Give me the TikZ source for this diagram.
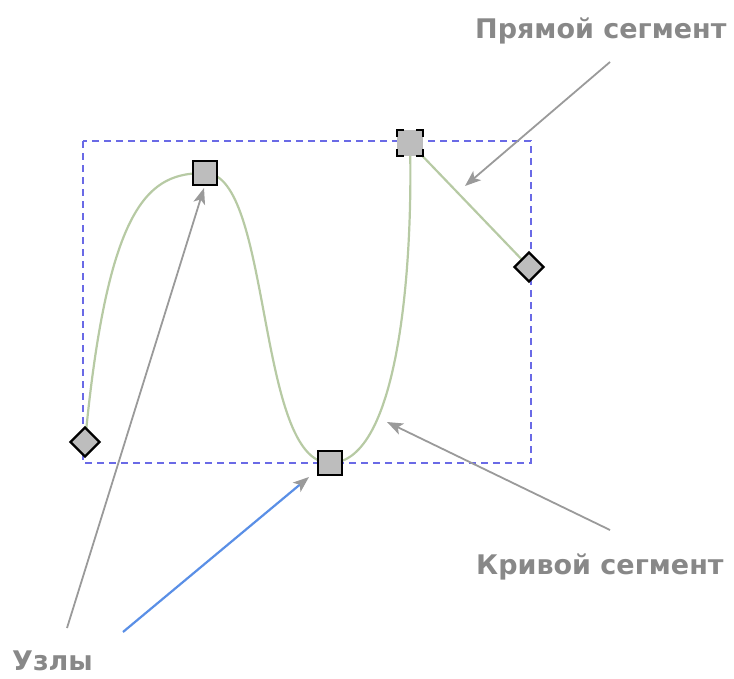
\documentclass[tikz,border=0pt]{standalone}
\usepackage{fontspec}
\setmainfont{DejaVu Sans}
\usetikzlibrary{shapes.geometric,arrows.meta}
\definecolor{pathgreen}{HTML}{B7CAA4}
\definecolor{boxblue}{HTML}{6A6AE6}
\definecolor{ptr}{HTML}{9A9A9A}
\definecolor{bluearrow}{HTML}{5A8FE6}
\definecolor{nodefill}{HTML}{BDBDBD}
\definecolor{labelgray}{HTML}{888888}
\tikzset{
  sqnode/.style={draw=black, line width=2.2pt, fill=nodefill, minimum size=24pt, inner sep=0pt},
  dmnode/.style={diamond, aspect=1, draw=black, line width=2.2pt, fill=nodefill, minimum size=30pt, inner sep=0pt},
  selnode/.style={fill=nodefill, minimum size=26pt, inner sep=0pt},
  pointer/.style={draw=ptr, line width=1.8pt, -{Stealth[length=16pt,width=12pt,inset=4pt,color=ptr]}},
  bluepointer/.style={draw=bluearrow, line width=2.2pt, -{Stealth[length=16pt,width=12pt,inset=4pt,color=ptr]}},
  lbl/.style={font=\bfseries\fontsize{27}{32}\selectfont, text=labelgray, inner sep=0pt, anchor=base west},
  seg/.style={draw=pathgreen, line width=2.2pt}
}
\begin{document}
\begin{tikzpicture}[x=1pt,y=-1pt]
\useasboundingbox (0,0) rectangle (734,678);
% bounding dashed box
\draw[boxblue, line width=1.6pt, dash pattern=on 7pt off 5pt] (83,141) rectangle (531,463);
% path
\coordinate (p0) at (85,442);
\coordinate (p1) at (205,173);
\coordinate (p2) at (330,463);
\coordinate (p3) at (410,143);
\coordinate (p4) at (529,267);
\draw[seg] (p0) .. controls (108,200) and (150,173) .. (p1)
  .. controls (272,173) and (256,463) .. (p2)
  .. controls (400,463) and (413,260) .. (p3) -- (p4);
% nodes
\node[dmnode] (n0) at (p0) {};
\node[sqnode] (n1) at (p1) {};
\node[sqnode] (n2) at (p2) {};
\node[dmnode] (n4) at (p4) {};
\node[selnode] (n3) at (p3) {};
\draw[black, line width=2.2pt]
  ([yshift=-7pt]n3.north west) -- (n3.north west) -- ([xshift=7pt]n3.north west)
  ([xshift=-7pt]n3.north east) -- (n3.north east) -- ([yshift=-7pt]n3.north east)
  ([yshift=7pt]n3.south west) -- (n3.south west) -- ([xshift=7pt]n3.south west)
  ([xshift=-7pt]n3.south east) -- (n3.south east) -- ([yshift=7pt]n3.south east);
% labels
\node[lbl] (lstraight) at (475,38) {Прямой сегмент};
\node[lbl] (lcurve) at (476,574) {Кривой сегмент};
\node[lbl] (lnodes) at (12,670) {Узлы};
% pointer coordinates
\coordinate (s1) at (610,62);
\coordinate (e1) at (465,186);
\coordinate (s2) at (610,530);
\coordinate (e2) at (387,422);
\coordinate (s3) at (67,628);
\coordinate (e3) at (204,188);
\coordinate (s4) at (123,632);
\coordinate (e4) at (309,477);
\draw[pointer] (s1) -- (e1);
\draw[pointer] (s2) -- (e2);
\draw[pointer] (s3) -- (e3);
\draw[bluepointer] (s4) -- (e4);
\end{tikzpicture}
\end{document}
